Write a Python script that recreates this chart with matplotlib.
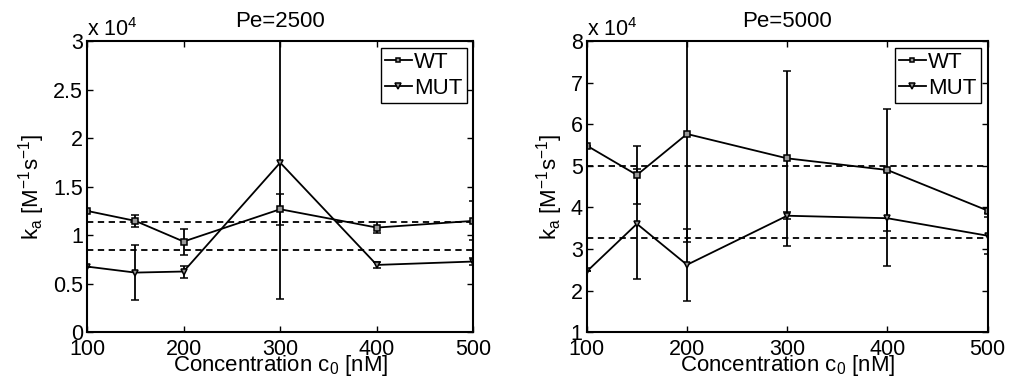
import numpy as np
import matplotlib
matplotlib.use('Agg')
import matplotlib.pyplot as plt
from matplotlib.ticker import FuncFormatter

plt.rcParams['font.family'] = ['Liberation Sans', 'DejaVu Sans']
plt.rcParams['mathtext.default'] = 'regular'

# concentration c0 [nM]
conc = [100, 150, 200, 300, 400, 500]

# Pe = 2500, k_a in M^-1 s^-1
wt_2500 = [12500, 11470, 9340, 12670, 10780, 11470]
wt_2500_err = [0, 600, 1340, 1600, 560, 2000]
mut_2500 = [6760, 6140, 6250, 17470, 6930, 7280]
mut_2500_err = [0, 2830, 620, 14100, 300, 400]

# Pe = 5000
wt_5000 = [54860, 47800, 57660, 51800, 49000, 39250]
wt_5000_err = [0, 7000, 26000, 21000, 14700, 500]
mut_5000 = [24600, 36050, 26200, 38000, 37400, 33200]
mut_5000_err = [0, 13200, 8600, 800, 11400, 4500]

panels = [
    ('Pe=2500', wt_2500, wt_2500_err, mut_2500, mut_2500_err, (0, 30000), np.arange(0, 30001, 5000)),
    ('Pe=5000', wt_5000, wt_5000_err, mut_5000, mut_5000_err, (10000, 80000), np.arange(10000, 80001, 10000)),
]

fig = plt.figure(figsize=(10.17, 3.84), dpi=100)
positions = [[0.0855, 0.135, 0.380, 0.758], [0.577, 0.135, 0.394, 0.758]]

fs = 16
lw = 1.3
for pos, (title, wt, wt_err, mut, mut_err, ylim, yticks) in zip(positions, panels):
    ax = fig.add_axes(pos)
    e1 = ax.errorbar(conc, wt, yerr=wt_err, color='k', lw=lw, marker='s', ms=4,
                     mfc='0.6', mec='k', mew=1.1, capsize=3, elinewidth=lw, capthick=lw)
    e2 = ax.errorbar(conc, mut, yerr=mut_err, color='k', lw=lw, marker='v', ms=5,
                     mfc='0.6', mec='k', mew=1.1, capsize=3, elinewidth=lw, capthick=lw)
    # dashed lines at the mean of each series
    ax.axhline(np.mean(wt), color='k', ls='--', lw=lw, dashes=(3.5, 2.5))
    ax.axhline(np.mean(mut), color='k', ls='--', lw=lw, dashes=(3.5, 2.5))

    ax.set_xlim(100, 500)
    ax.set_ylim(*ylim)
    ax.set_xticks([100, 200, 300, 400, 500])
    ax.set_yticks(yticks)
    ax.yaxis.set_major_formatter(FuncFormatter(lambda v, p: '%g' % (v / 1e4)))
    ax.tick_params(direction='in', length=4, width=1, top=True, right=True,
                   labelsize=fs - 0.5)
    ax.tick_params(axis='x', pad=5)
    ax.tick_params(axis='y', pad=3)
    for s in ax.spines.values():
        s.set_linewidth(1.5)

    ax.text(0.0, 1.0, r'x 10$^4$', transform=ax.transAxes, ha='left', va='bottom',
            fontsize=fs - 0.5)
    ax.set_title(title, fontsize=fs, pad=10)
    ax.set_xlabel('Concentration c$_0$ [nM]', fontsize=fs, labelpad=-5)
    ax.set_ylabel('k$_a$ [M$^{-1}$s$^{-1}$]', fontsize=fs, labelpad=4)

    leg = ax.legend([e1.lines[0], e2.lines[0]], ['WT', 'MUT'], loc='upper right',
                    fontsize=fs, handlelength=1.2, handletextpad=0.1, borderpad=0.2,
                    labelspacing=0.2, borderaxespad=0.3, fancybox=False, framealpha=1,
                    markerscale=0.8)
    leg.get_frame().set_edgecolor('k')
    leg.get_frame().set_linewidth(1.0)

fig.savefig('out.png', dpi=100)
